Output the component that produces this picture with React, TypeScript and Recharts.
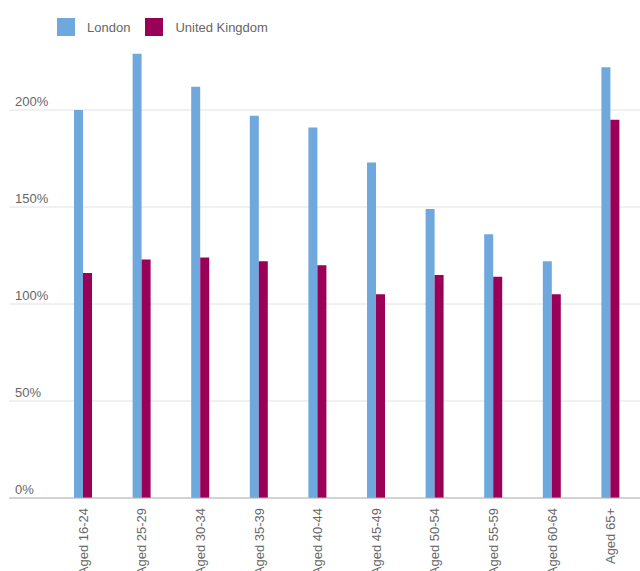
import { BarChart, Bar, XAxis, YAxis, CartesianGrid, Legend } from "recharts";

const ageGroups = [
  "Aged 16-24",
  "Aged 25-29",
  "Aged 30-34",
  "Aged 35-39",
  "Aged 40-44",
  "Aged 45-49",
  "Aged 50-54",
  "Aged 55-59",
  "Aged 60-64",
  "Aged 65+",
];
const londonValues = [200, 229, 212, 197, 191, 173, 149, 136, 122, 222];
const ukValues = [116, 123, 124, 122, 120, 105, 115, 114, 105, 195];
const yTicks = [0, 50, 100, 150, 200];
const yMax = 250;

const LONDON = "#6fa8dc";
const UK = "#9b0059";
const FONT = "Arial, 'Liberation Sans', sans-serif";

const data = ageGroups.map((g, i) => ({
  group: g,
  London: londonValues[i],
  "United Kingdom": ukValues[i],
}));

const renderYTick = (props: any) => {
  const { x, y, payload } = props;
  return (
    <text x={x + 14} y={y - 4} fill="#666" fontSize={13} fontFamily={FONT} textAnchor="start">
      {payload.value}%
    </text>
  );
};

const renderXTick = (props: any) => {
  const { x, y, payload } = props;
  return (
    <g transform={`translate(${x},${y})`}>
      <text
        transform="rotate(-90)"
        x={-2}
        dy="0.35em"
        textAnchor="end"
        fill="#666"
        fontSize={13}
        fontFamily={FONT}
      >
        {payload.value}
      </text>
    </g>
  );
};

// grid lines only at the labelled ticks (no line at the top of the domain)
const gridRows = ({ yAxis, offset }: any) => {
  const sc = yAxis && yAxis.scale;
  if (typeof sc === "function") return yTicks.map((t) => sc(t));
  return yTicks.map((t) => offset.top + offset.height * (1 - t / yMax));
};

function LegendBox(props: any) {
  const items = props.payload || [];
  return (
    <div style={{ display: "flex", alignItems: "center", fontFamily: FONT, fontSize: 13, color: "#666" }}>
      {items.map((it: any) => (
        <div key={it.value} style={{ display: "flex", alignItems: "center", marginRight: 15 }}>
          <span style={{ width: 18, height: 18, background: it.color, display: "inline-block", marginRight: 12 }} />
          <span>{it.value}</span>
        </div>
      ))}
    </div>
  );
}

export default function App() {
  return (
    <div style={{ position: "absolute", left: 0, top: 0, background: "#fff" }}>
      <BarChart
        width={640}
        height={571}
        data={data}
        margin={{ top: 13, right: 0, left: -51, bottom: 0 }}
        barSize={9}
        barGap={0}
      >
        <CartesianGrid vertical={false} stroke="#e2e2e2" horizontalCoordinatesGenerator={gridRows} />
        <XAxis
          dataKey="group"
          height={73}
          interval={0}
          padding={{ left: 45, right: 0 }}
          tickLine={false}
          axisLine={{ stroke: "#b5b5b5" }}
          tick={renderXTick}
        />
        <YAxis
          width={60}
          domain={[0, yMax]}
          ticks={yTicks}
          interval={0}
          axisLine={false}
          tickLine={false}
          tick={renderYTick}
        />
        <Legend
          layout="horizontal"
          verticalAlign="middle"
          align="center"
          wrapperStyle={{ top: 18, left: 57, width: "auto" }}
          content={<LegendBox />}
        />
        <Bar dataKey="London" fill={LONDON} isAnimationActive={false} />
        <Bar dataKey="United Kingdom" fill={UK} isAnimationActive={false} />
      </BarChart>
    </div>
  );
}
